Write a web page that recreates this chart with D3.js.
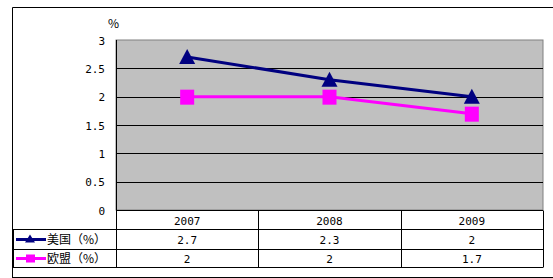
<!DOCTYPE html>
<html><head><meta charset="utf-8">
<script src="https://cdn.jsdelivr.net/npm/d3@7"></script>
<style>body{margin:0;background:#fff}svg{display:block}</style>
</head><body>
<svg id="c" width="553" height="278"></svg>
<script>
const categories = ["2007","2008","2009"];
const usValues = [2.7, 2.3, 2];
const euValues = [2, 2, 1.7];
const seriesNames = ["美国（%）","欧盟（%）"];
const yTicks = [0,0.5,1,1.5,2,2.5,3];
const tickLabels = ["0","0.5","1","1.5","2","2.5","3"];
const unitLabel = "%";

const svg = d3.select("#c");
const font = "'Noto Sans CJK SC', 'DejaVu Sans', sans-serif";
const mono = "'DejaVu Sans Mono', 'Liberation Mono', monospace";
const L = 116, R = 543, T = 40, B = 210;
const x = d3.scaleBand().domain(categories).range([L, R]);
const y = d3.scaleLinear().domain([0, 3]).range([B, T]);

// outer frame
svg.append("path").attr("d","M12.5,277.5 V7.5 H553").attr("fill","none").attr("stroke","#000").attr("stroke-width",1);
svg.append("line").attr("x1",12).attr("x2",553).attr("y1",277.5).attr("y2",277.5).attr("stroke","#000");

// plot area
svg.append("rect").attr("x",L).attr("y",T).attr("width",R-L).attr("height",B-T).attr("fill","#c0c0c0").attr("stroke","#808080");
svg.selectAll(".grid").data(yTicks.filter(d=>d>0 && d<3)).enter().append("line")
  .attr("x1",L).attr("x2",R).attr("y1",d=>Math.round(y(d))+0.5).attr("y2",d=>Math.round(y(d))+0.5).attr("stroke","#000");
svg.append("line").attr("x1",L+0.5).attr("x2",L+0.5).attr("y1",T).attr("y2",B).attr("stroke","#000");

// y axis labels
svg.selectAll(".yl").data(yTicks).enter().append("text")
  .attr("x",105).attr("y",d=>y(d)+4.5).attr("text-anchor","end")
  .attr("font-family",mono).attr("font-size",11).text((d,i)=>tickLabels[i]);
svg.append("text").attr("x",108).attr("y",28).attr("font-family",font).attr("font-size",12).text(unitLabel);

// table
const rowY = [210.5, 229.5, 249.5, 267.5];
svg.append("line").attr("x1",L).attr("x2",R).attr("y1",rowY[0]).attr("y2",rowY[0]).attr("stroke","#000");
for (let i=1;i<4;i++) svg.append("line").attr("x1",13).attr("x2",R).attr("y1",rowY[i]).attr("y2",rowY[i]).attr("stroke","#000");
svg.append("line").attr("x1",13.5).attr("x2",13.5).attr("y1",rowY[1]).attr("y2",rowY[3]).attr("stroke","#000");
const colX = [L, ...categories.map(c=>x(c)+x.bandwidth())];
colX.forEach(cx=>svg.append("line").attr("x1",Math.round(cx)+0.5).attr("x2",Math.round(cx)+0.5).attr("y1",rowY[0]).attr("y2",rowY[3]).attr("stroke","#000"));

svg.selectAll(".cat").data(categories).enter().append("text")
  .attr("x",d=>x(d)+x.bandwidth()/2).attr("y",224.5).attr("text-anchor","middle")
  .attr("font-family",mono).attr("font-size",11).text(d=>d);

const series = [
  {name:seriesNames[0], values:usValues, color:"#000080", shape:"tri"},
  {name:seriesNames[1], values:euValues, color:"#ff00ff", shape:"sq"}
];
function marker(g, cx, cy, s){
  if (s.shape==="tri") g.append("path").attr("d",`M${cx},${cy-8} L${cx+8},${cy+7} L${cx-8},${cy+7} Z`).attr("fill",s.color);
  else g.append("rect").attr("x",cx-7).attr("y",cy-7).attr("width",14).attr("height",15).attr("fill",s.color);
}
series.forEach((s,si)=>{
  const ry = (rowY[si+1]+rowY[si+2])/2;
  s.values.forEach((v,i)=>svg.append("text").attr("x",x(categories[i])+x.bandwidth()/2).attr("y",ry+4.5)
    .attr("text-anchor","middle").attr("font-family",mono).attr("font-size",11).text(v));
  svg.append("line").attr("x1",16).attr("x2",46).attr("y1",ry).attr("y2",ry).attr("stroke",s.color).attr("stroke-width",3);
  const lg = svg.append("g");
  if (s.shape==="tri") lg.append("path").attr("d",`M30,${ry-5} L35,${ry+3} L25,${ry+3} Z`).attr("fill",s.color);
  else lg.append("rect").attr("x",26).attr("y",ry-4).attr("width",9).attr("height",8).attr("fill",s.color);
  svg.append("text").attr("x",47).attr("y",ry+4.5).attr("font-family",font).attr("font-size",12).text(s.name);
});

// lines and markers (US first, EU on top)
series.forEach(s=>{
  const line = d3.line().x((d,i)=>x(categories[i])+x.bandwidth()/2).y(d=>y(d));
  svg.append("path").attr("d",line(s.values)).attr("fill","none").attr("stroke",s.color).attr("stroke-width",3);
  const g = svg.append("g");
  s.values.forEach((v,i)=>marker(g, x(categories[i])+x.bandwidth()/2, y(v), s));
});
</script>
</body></html>
